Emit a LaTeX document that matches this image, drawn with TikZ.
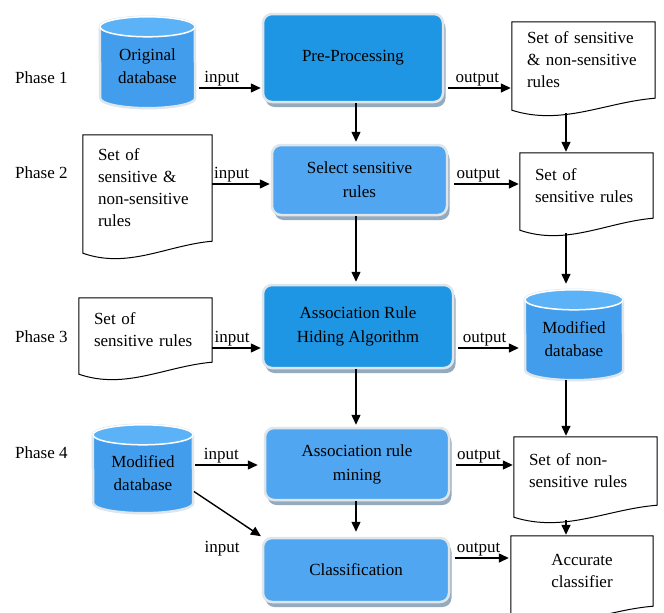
\documentclass[tikz,border=0pt]{standalone}
\usepackage{fontspec}
\setmainfont{Liberation Serif}
\usetikzlibrary{arrows.meta,calc,shadows}
\pgfdeclarelayer{bg}
\pgfsetlayers{bg,main}
\definecolor{brightblue}{RGB}{30,150,228}
\definecolor{lightblue}{RGB}{80,166,240}
\definecolor{cylbody}{RGB}{66,158,236}
\definecolor{cyltop}{RGB}{92,178,246}
\definecolor{edgec}{RGB}{222,230,236}
\definecolor{shadowc}{RGB}{150,170,190}
\newcommand\docpath[1]{%
  \draw[docline] ([yshift=-12pt]#1.south west) -- (#1.north west) -- (#1.north east) -- (#1.south east)
    .. controls ($(#1.south west)!0.65!(#1.south east)+(0pt,-4pt)$) and ($(#1.south west)!0.35!(#1.south east)+(0pt,-28pt)$) .. ([yshift=-12pt]#1.south west) -- cycle;}
\newcommand\cylpath[2]{%
  \draw[edgec, line width=2.5pt, fill=cylbody] ([yshift=-2pt]#1.north west) arc[start angle=180,end angle=0,x radius=#2pt,y radius=10pt]
    -- ([yshift=10pt]#1.south east) arc[start angle=0,end angle=-180,x radius=#2pt,y radius=10pt] -- cycle;
  \draw[white, line width=1.5pt, fill=cyltop] ([yshift=-2pt]#1.north) ellipse[x radius=#2pt, y radius=10pt];}
\begin{document}
\begin{tikzpicture}[x=1pt,y=-1pt,
  txt/.style={font=\fontsize{17}{22}\selectfont},
  box/.style={txt, font=\fontsize{17}{24}\selectfont, rounded corners=9pt, draw=edgec, line width=2.5pt, align=center, inner sep=2pt,
     drop shadow={shadow xshift=2.5pt, shadow yshift=-5pt, fill=shadowc, opacity=1}},
  cyl/.style={txt, font=\fontsize{17}{23}\selectfont, draw=none, inner sep=0pt, align=center},
  docn/.style={txt, draw=none, inner xsep=15pt, inner ysep=0pt, align=left},
  docline/.style={draw=black, line width=1pt, fill=white},
  phase/.style={txt, anchor=base west, inner sep=0pt},
  arr/.style={-{Triangle[length=10pt,width=9pt]}, line width=1.4pt, shorten >=1pt},
  lbl/.style={txt, above, inner sep=1pt}
]
\useasboundingbox (0,0) rectangle (664,613);
\begin{pgfonlayer}{bg}
\fill[white] (0,0) rectangle (664,613);
\end{pgfonlayer}

% phase labels
\node[phase] (p1) at (15,83) {Phase 1};
\node[phase] (p2) at (15,178) {Phase 2};
\node[phase] (p3) at (15,342) {Phase 3};
\node[phase] (p4) at (15,458) {Phase 4};

% process boxes
\node[box, fill=brightblue, minimum width=180pt, minimum height=88pt] (b1) at (353,58) {Pre-Processing};
\node[box, fill=lightblue, minimum width=175pt, minimum height=70pt] (b2) at (359.5,180) {Select sensitive\\rules};
\node[box, fill=brightblue, minimum width=190pt, minimum height=83pt] (b3) at (358,326.5) {Association Rule\\Hiding Algorithm};
\node[box, fill=lightblue, minimum width=184pt, minimum height=72pt] (b4) at (357,464) {Association rule\\mining};
\node[box, fill=lightblue, minimum width=186pt, minimum height=64pt] (b5) at (356,570) {Classification};

% cylinders
\node[cyl, minimum width=95pt, minimum height=83pt] (c1) at (147.5,66.5) {Original\\database};
\node[cyl, minimum width=98pt, minimum height=82pt] (c2) at (574,339) {Modified\\database};
\node[cyl, minimum width=100pt, minimum height=80pt] (c3) at (143,473) {Modified\\database};

% documents
\node[docn, minimum width=143pt, minimum height=76pt, text width=113pt] (d1) at (583.5,60) {Set of sensitive\\\& non-sensitive\\rules};
\node[docn, minimum width=129pt, minimum height=106pt, text width=99pt] (d2L) at (147.5,188) {Set of\\sensitive \&\\non-sensitive\\rules};
\node[docn, minimum width=133pt, minimum height=65pt, text width=103pt] (d2R) at (586.5,185.5) {Set of\\sensitive rules};
\node[docn, minimum width=133pt, minimum height=64pt, text width=103pt] (d3L) at (145.5,330) {Set of\\sensitive rules};
\node[docn, minimum width=143pt, minimum height=68pt, text width=113pt] (d5) at (585.5,471) {Set of non-\\sensitive rules};
\node[docn, minimum width=142pt, minimum height=70pt, text width=112pt, align=center] (d6) at (582,571) {Accurate\\classifier};

\begin{pgfonlayer}{bg}
\cylpath{c1}{47.5}
\cylpath{c2}{49}
\cylpath{c3}{50}
\docpath{d1}
\docpath{d2L}
\docpath{d2R}
\docpath{d3L}
\docpath{d5}
\docpath{d6}
\end{pgfonlayer}

% helper coordinates
\coordinate (r1) at (0,88);
\coordinate (r2) at (0,184);
\coordinate (r3) at (0,348);
\coordinate (r4) at (0,465);
\coordinate (r5) at (0,558);
\coordinate (r6) at (0,491);
\coordinate (bc) at (356,0);
\coordinate (dc) at (566,0);

% horizontal arrows
\draw[arr, shorten <=4pt] (c1.east |- r1) -- node[lbl, pos=0.4] {input} (b1.west |- r1);
\draw[arr, shorten <=4pt] (b1.east |- r1) -- node[lbl, pos=0.49] {output} (d1.west |- r1);
\draw[arr] (d2L.east |- r2) -- node[lbl, pos=0.33] {input} (b2.west |- r2);
\draw[arr, shorten <=6pt] (b2.east |- r2) -- node[lbl, pos=0.42] {output} (d2R.west |- r2);
\draw[arr] (d3L.east |- r3) -- node[lbl, pos=0.4] {input} (b3.west |- r3);
\draw[arr, shorten <=4pt, shorten >=6pt] (b3.east |- r3) -- node[lbl, pos=0.43] {output} (c2.west |- r3);
\draw[arr, shorten <=2pt, shorten >=6pt] (c3.east |- r4) -- node[lbl, pos=0.4] {input} (b4.west |- r4);
\draw[arr, shorten <=6pt] (b4.east |- r4) -- node[lbl, pos=0.45] {output} (d5.west |- r4);
\draw[arr, shorten <=5pt, shorten >=2pt] (b5.east |- r5) -- node[lbl, pos=0.47] {output} (d6.west |- r5);
\draw[arr, shorten <=1pt, shorten >=1pt] (c3.east |- r6) -- (b5.north west);
\node[txt, anchor=base, inner sep=0pt] (l6) at (222,552) {input};

% vertical arrows
\draw[arr, shorten >=2pt] (b1.south -| bc) -- (b2.north -| bc);
\draw[arr, shorten >=2pt] (b2.south -| bc) -- (b3.north -| bc);
\draw[arr, shorten >=2pt] (b3.south -| bc) -- (b4.north -| bc);
\draw[arr, shorten >=5pt] (b4.south -| bc) -- (b5.north -| bc);
\draw[arr] ($(d1.south -| dc)+(0pt,-15pt)$) -- (d2R.north -| dc);
\draw[arr, shorten >=14pt] ($(d2R.south -| dc)+(0pt,-15pt)$) -- (c2.north -| dc);
\draw[arr] (c2.south -| dc) -- (d5.north -| dc);
\draw[arr] ($(d5.south -| dc)+(0pt,-15pt)$) -- (d6.north -| dc);
\end{tikzpicture}
\end{document}
